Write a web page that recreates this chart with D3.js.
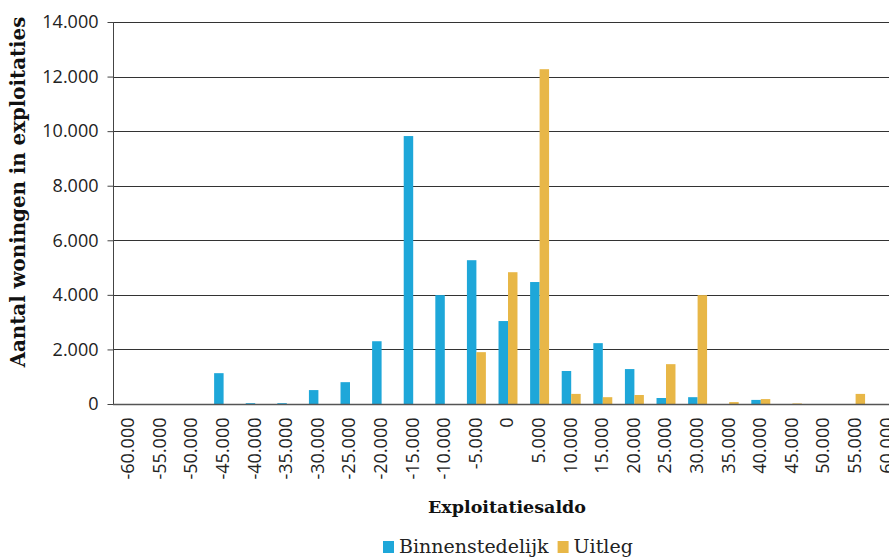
<!DOCTYPE html>
<html><head><meta charset="utf-8">
<script src="https://cdn.jsdelivr.net/npm/d3@7"></script>
<style>body{margin:0;background:#fff;}svg{display:block;}</style>
</head><body>
<script>
const categories = [-60000,-55000,-50000,-45000,-40000,-35000,-30000,-25000,-20000,-15000,-10000,-5000,0,5000,10000,15000,20000,25000,30000,35000,40000,45000,50000,55000,60000];
const binnenstedelijk = [0,0,0,1130,30,30,510,800,2300,9820,3990,5270,3040,4470,1210,2230,1280,220,250,0,150,0,0,0,0];
const uitleg = [0,0,0,0,0,0,0,0,0,0,0,1900,4830,12270,370,250,330,1460,3990,70,180,20,0,370,0];
const seriesNames = ["Binnenstedelijk","Uitleg"];
const colors = ["#1EA7D9","#E8B747"];
const yTicks = [0,2000,4000,6000,8000,10000,12000,14000];

const W=889,H=557;
const loc = d3.formatLocale({decimal:",",thousands:".",grouping:[3],currency:["€",""],minus:"-"});
const fmt = loc.format(",");
const serif = "'DejaVu Serif', serif";
const sans = "'Open Sans', sans-serif";

const svg = d3.select("body").append("svg").attr("width",W).attr("height",H);
const mLeft=113, mTop=22, mBottom=404;
const x = d3.scaleBand().domain(categories).range([mLeft, 903]).paddingInner(0.4).paddingOuter(0.2);
const x1 = d3.scaleBand().domain(seriesNames).range([0, x.bandwidth()]);
const y = d3.scaleLinear().domain([0,14000]).range([mBottom, mTop]);

// gridlines
svg.append("g").selectAll("line").data(yTicks.filter(d=>d>0)).join("line")
  .attr("x1",mLeft).attr("x2",W).attr("y1",d=>Math.round(y(d))+0.5).attr("y2",d=>Math.round(y(d))+0.5)
  .attr("stroke","#333").attr("stroke-width",1);

// bars
const data = categories.map((c,i)=>({c, vals:[binnenstedelijk[i], uitleg[i]]}));
const g = svg.append("g");
data.forEach(d=>{
  d.vals.forEach((v,j)=>{
    if(v<=0) return;
    g.append("rect").attr("x",x(d.c)+x1(seriesNames[j])).attr("width",x1.bandwidth())
      .attr("y",y(v)).attr("height",mBottom-y(v)).attr("fill",colors[j]);
  });
});

// y axis
const yAxis = d3.axisLeft(y).tickValues(yTicks).tickFormat(fmt).tickSize(6).tickPadding(9);
const ya = svg.append("g").attr("transform",`translate(${mLeft+0.5},0)`).call(yAxis);
ya.select(".domain").attr("stroke","#444").attr("d",`M0,${mTop}V${mBottom}`);
ya.selectAll(".tick line").attr("stroke","#444");
ya.selectAll("text").attr("font-family",sans).attr("font-size",18).attr("fill","#222");

// x axis
const xa = svg.append("g").attr("transform",`translate(0,${mBottom+0.5})`).call(d3.axisBottom(x).tickFormat(fmt).tickSize(0));
xa.select(".domain").attr("stroke","#555").attr("stroke-width",1.5).attr("d",`M${mLeft},0H${W}`);
xa.selectAll("text").attr("font-family",sans).attr("font-size",18).attr("fill","#222")
  .attr("text-anchor","end").attr("transform","rotate(-90)").attr("x",-13).attr("y",-1).attr("dy","0.35em");

// axis titles
svg.append("text").attr("transform",`translate(25,192) rotate(-90)`).attr("text-anchor","middle")
  .attr("font-family",serif).attr("font-weight","bold").attr("font-size",19.8).attr("fill","#111").text("Aantal woningen in exploitaties");
svg.append("text").attr("x",507).attr("y",513).attr("text-anchor","middle")
  .attr("font-family",serif).attr("font-weight","bold").attr("font-size",17.5).attr("fill","#111").text("Exploitatiesaldo");

// legend
const leg = svg.append("g");
let lx = 383;
seriesNames.forEach((n,i)=>{
  leg.append("rect").attr("x",lx).attr("y",541).attr("width",11).attr("height",12).attr("fill",colors[i]);
  const t = leg.append("text").attr("x",lx+16).attr("y",553).attr("font-family",serif).attr("font-size",19).attr("fill","#222").text(n);
  lx += 16 + t.node().getComputedTextLength() + 9;
});
</script>
</body></html>
